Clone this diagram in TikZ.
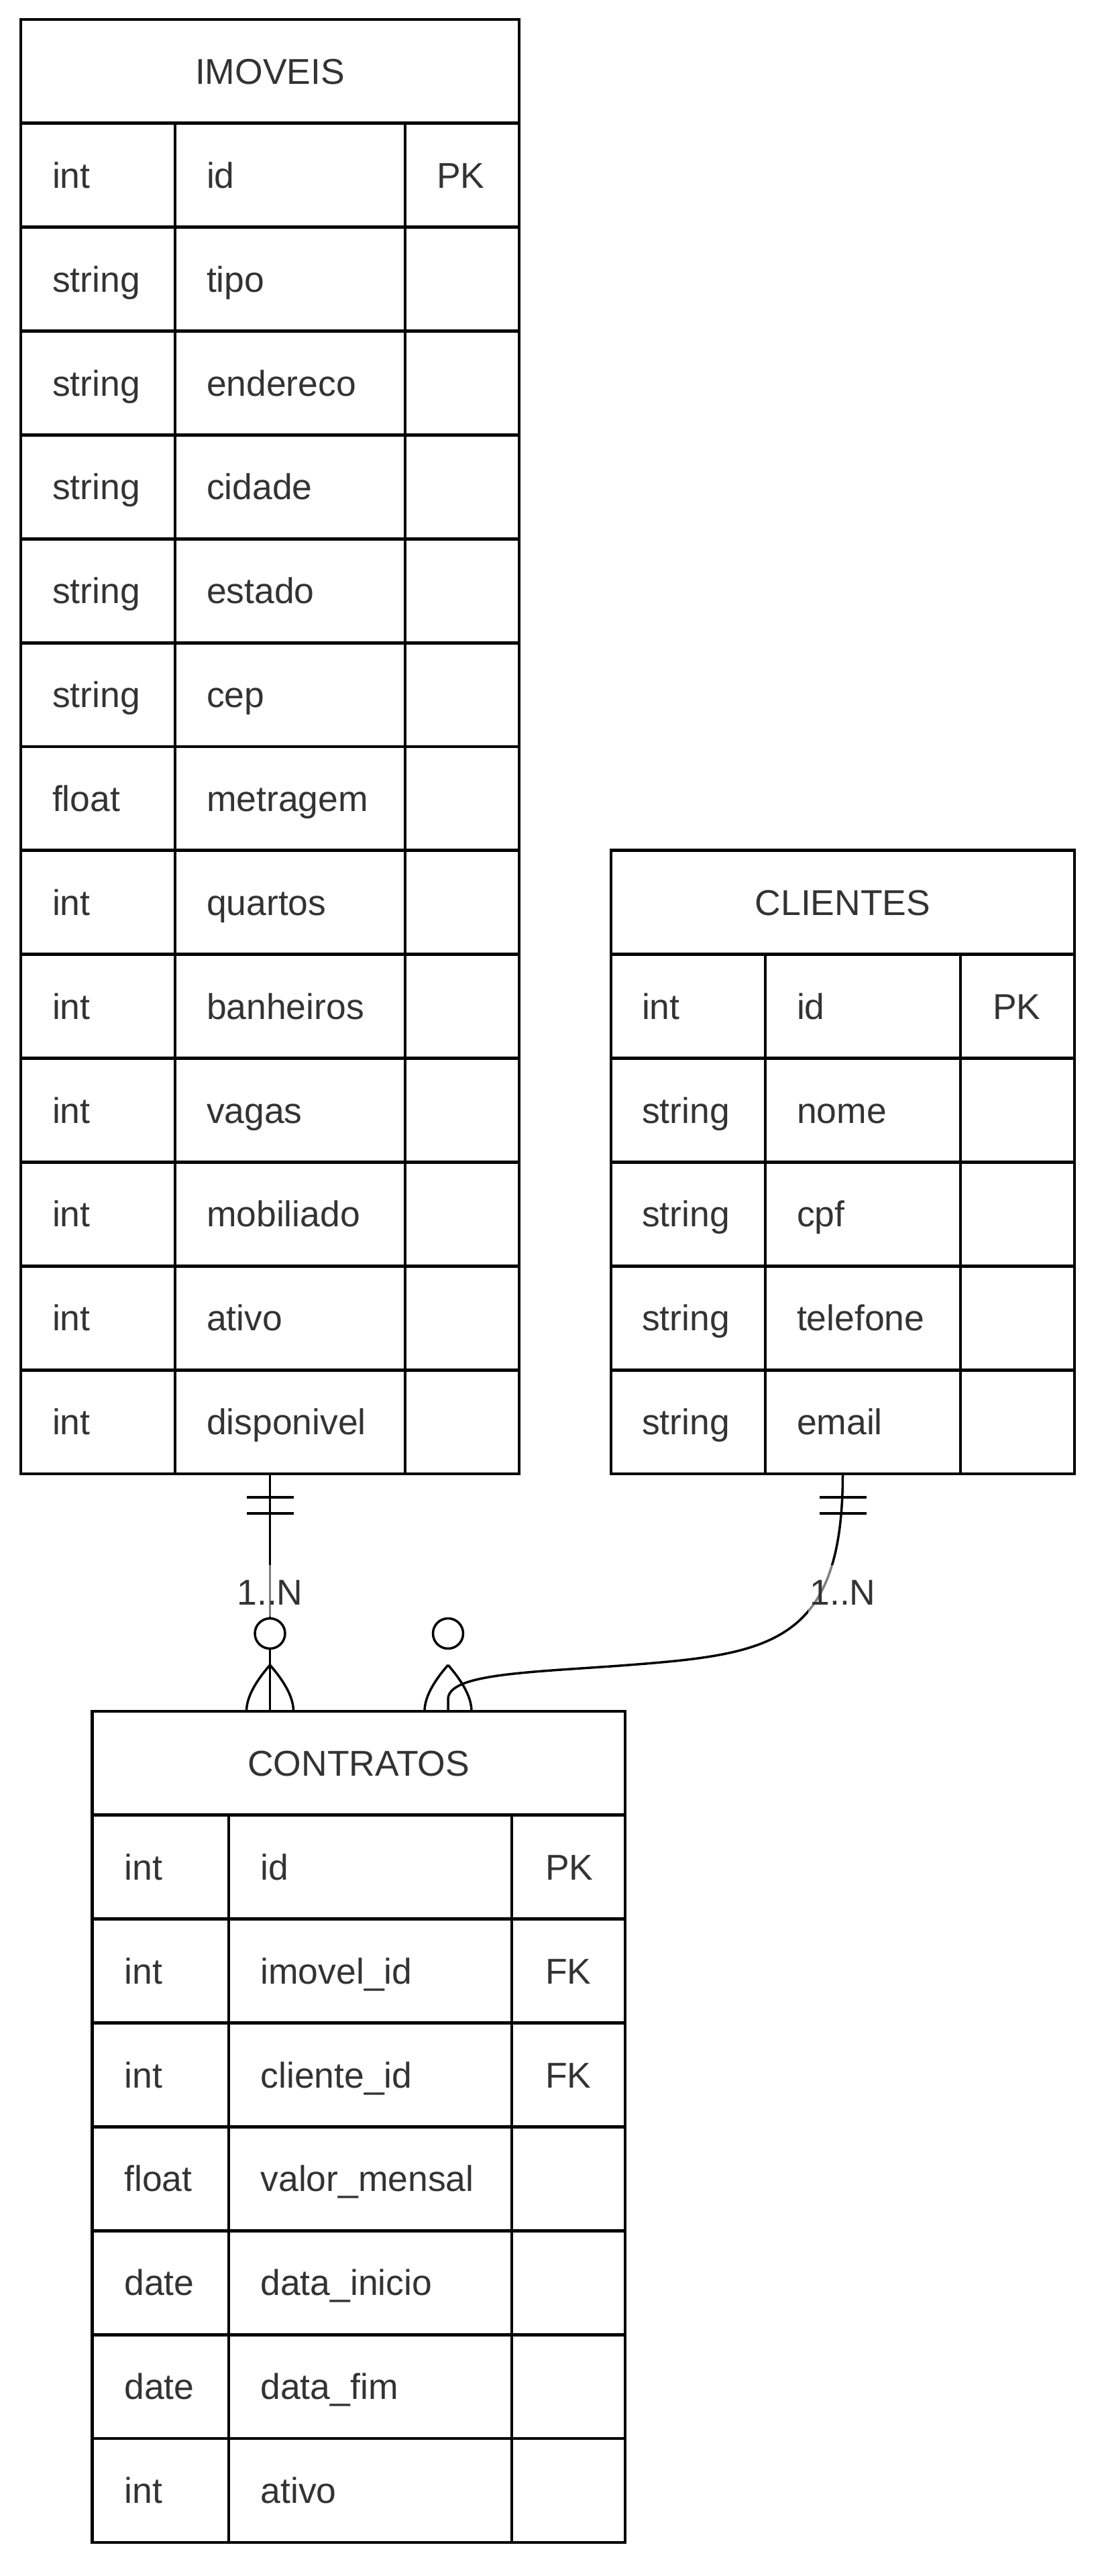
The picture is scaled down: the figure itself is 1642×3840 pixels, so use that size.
\documentclass[tikz,border=0pt]{standalone}
\usepackage{fontspec}
\setmainfont{Liberation Sans}
\usetikzlibrary{calc}
\definecolor{txtc}{HTML}{333333}
\begin{document}
\begin{tikzpicture}[x=1pt,y=-1pt,
  tline/.style={line width=4.8pt, draw=black},
  conn/.style={line width=3.5pt, draw=black},
  txt/.style={text=txtc, inner sep=0pt, outer sep=0pt, font=\fontsize{53.5}{64}\selectfont},
  tbl/.style={draw=black, line width=4.8pt, inner sep=0pt, outer sep=0pt, rectangle},
  circ/.style={circle, draw=black, fill=white, line width=3.5pt, minimum size=45pt, inner sep=0pt, outer sep=0pt},
  lblbg/.style={fill=white, fill opacity=0.5},
]
\def\rh{154.86}
\def\ct{1267.84}
\useasboundingbox (0,0) rectangle (1642,3840);
\fill[white] (0,0) rectangle (1642,3840);

% ---------------- IMOVEIS ----------------
\node[tbl, minimum width=743pt, minimum height=2168pt, anchor=north west] (imoveis) at (31,29) {};
\foreach \i in {1,...,13} \draw[tline] (31,{29+\i*\rh}) -- (774,{29+\i*\rh});
\foreach \cx in {261,604} \draw[tline] (\cx,{29+\rh}) -- (\cx,2197);
\node[txt, anchor=base] (imoveis-title) at (402.5,{29+\rh/2+19}) {IMOVEIS};
\foreach \ty/\nm [count=\i] in {int/id,string/tipo,string/endereco,string/cidade,string/estado,string/cep,float/metragem,int/quartos,int/banheiros,int/vagas,int/mobiliado,int/ativo,int/disponivel} {
  \node[txt, anchor=base west] (imoveis-ty\i) at (78,{29+\i*\rh+\rh/2+19}) {\ty};
  \node[txt, anchor=base west] (imoveis-nm\i) at (308,{29+\i*\rh+\rh/2+19}) {\nm};
}
\node[txt, anchor=base west] (imoveis-k1) at (651,{29+1.5*\rh+19}) {PK};

% ---------------- CLIENTES ----------------
\node[tbl, minimum width=691pt, minimum height=929.16pt, anchor=north west] (clientes) at (911,\ct) {};
\foreach \i in {1,...,5} \draw[tline] (911,{\ct+\i*\rh}) -- (1602,{\ct+\i*\rh});
\foreach \cx in {1141,1432} \draw[tline] (\cx,{\ct+\rh}) -- (\cx,2197);
\node[txt, anchor=base] (clientes-title) at (1256.5,{\ct+\rh/2+19}) {CLIENTES};
\foreach \ty/\nm [count=\i] in {int/id,string/nome,string/cpf,string/telefone,string/email} {
  \node[txt, anchor=base west] (clientes-ty\i) at (957,{\ct+\i*\rh+\rh/2+19}) {\ty};
  \node[txt, anchor=base west] (clientes-nm\i) at (1188,{\ct+\i*\rh+\rh/2+19}) {\nm};
}
\node[txt, anchor=base west] (clientes-k1) at (1480,{\ct+1.5*\rh+19}) {PK};

% ---------------- CONTRATOS ----------------
\node[tbl, minimum width=794.5pt, minimum height=1238.88pt, anchor=north west] (contratos) at (137.5,2551) {};
\foreach \i in {1,...,7} \draw[tline] (137.5,{2551+\i*\rh}) -- (932,{2551+\i*\rh});
\foreach \cx in {341,763} \draw[tline] (\cx,{2551+\rh}) -- (\cx,3789.88);
\node[txt, anchor=base] (contratos-title) at (534.75,{2551+\rh/2+19}) {CONTRATOS};
\foreach \ty/\nm [count=\i] in {int/id,int/imovel\_id,int/cliente\_id,float/valor\_mensal,date/data\_inicio,date/data\_fim,int/ativo} {
  \node[txt, anchor=base west] (contratos-ty\i) at (185.5,{2551+\i*\rh+\rh/2+19}) {\ty};
  \node[txt, anchor=base west] (contratos-nm\i) at (388.5,{2551+\i*\rh+\rh/2+19}) {\nm};
}
\node[txt, anchor=base west] (contratos-k1) at (813,{2551+1.5*\rh+19}) {PK};
\node[txt, anchor=base west] (contratos-k2) at (813,{2551+2.5*\rh+19}) {FK};
\node[txt, anchor=base west] (contratos-k3) at (813,{2551+3.5*\rh+19}) {FK};

% ---------------- Connector IMOVEIS -> CONTRATOS ----------------
\draw[conn] (imoveis.south) -- (imoveis.south |- contratos.north);
\draw[conn] ($(imoveis.south)+(-35,35)$) -- ($(imoveis.south)+(35,35)$);
\draw[conn] ($(imoveis.south)+(-35,59)$) -- ($(imoveis.south)+(35,59)$);
\node[circ] (o1) at (402.5,2435) {};
\coordinate (apex1) at (402.5,2482);
\draw[conn] (apex1) .. controls (379.2,2508.7) and (367.5,2531.3) .. (367.5,2551);
\draw[conn] (apex1) .. controls (425.8,2508.7) and (437.5,2531.3) .. (437.5,2551);
\fill[lblbg] (350.5,2333) rectangle (454.5,2410);
\node[txt, anchor=base] (lbl1) at (402.5,2392) {1..N};

% ---------------- Connector CLIENTES -> CONTRATOS ----------------
\coordinate (c2end) at ($(contratos.north west)+(530.5,0)$);
\draw[conn] (clientes.south) .. controls (1256.5,2447) and (1150,2465) .. (950,2481)
  .. controls (800,2493) and (668,2493) .. (668,2533) -- (c2end);
\draw[conn] ($(clientes.south)+(-35,35)$) -- ($(clientes.south)+(35,35)$);
\draw[conn] ($(clientes.south)+(-35,59)$) -- ($(clientes.south)+(35,59)$);
\node[circ] (o2) at (668,2435) {};
\coordinate (apex2) at (668,2482);
\draw[conn] (apex2) .. controls (644.7,2508.7) and (633,2531.3) .. (633,2551);
\draw[conn] (apex2) .. controls (691.3,2508.7) and (703,2531.3) .. (703,2551);
\fill[lblbg] (1204.5,2333) rectangle (1308.5,2410);
\node[txt, anchor=base] (lbl2) at (1256.5,2392) {1..N};
\end{tikzpicture}
\end{document}
